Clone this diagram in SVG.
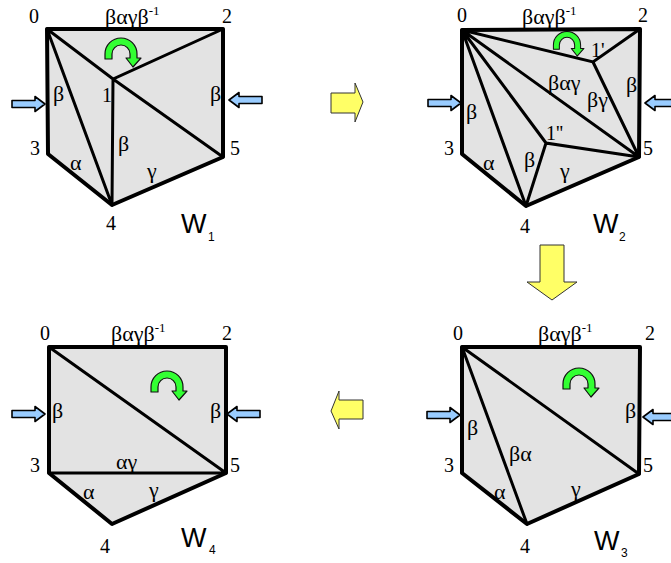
<svg xmlns="http://www.w3.org/2000/svg" xmlns:xlink="http://www.w3.org/1999/xlink" width="671" height="563" viewBox="0 0 671 563">
<style>
.face{fill:#e3e3e3;stroke:none}
.bd{fill:none;stroke:#000;stroke-width:4;stroke-linejoin:round;stroke-linecap:round}
.ed{fill:none;stroke:#000;stroke-width:3;stroke-linecap:round}
.t{font-family:"Liberation Serif","Times New Roman",serif;font-size:20px;fill:#000}
.g{font-family:"Liberation Serif","Times New Roman",serif;font-size:22px;fill:#000}
.sup{font-family:"Liberation Serif","Times New Roman",serif;font-size:13px;fill:#000}
.w{font-family:"Liberation Sans",Arial,sans-serif;font-size:27px;fill:#000}
.ws{font-family:"Liberation Sans",Arial,sans-serif;font-size:12px;fill:#000}
.blue{fill:#99ccff;stroke:#000;stroke-width:1.6;stroke-linejoin:round}
.green{fill:#33ff33;stroke:#111;stroke-width:1.2;stroke-linejoin:round}
.yel{fill:#ffff66;stroke:#333;stroke-width:1;stroke-linejoin:miter}
</style>
<defs>
<path id="blueR" class="blue" d="M-33,-3.5 L-10,-3.5 L-10,-7.5 L0,0 L-10,7.5 L-10,3.5 L-33,3.5 Z"/>
<path id="greenA" class="green" d="M-16,5 L-16,0 A16,16 0 0 1 16,0 L16,4 L20,4 L12,13 L5,4 L9,4 L9,0 A9,9 0 0 0 -9,0 L-9,5 Z"/>
</defs>

<g id="W1">
<polygon class="face" points="47,29 223,29 223,157 112,205 48,154"/>
<use xlink:href="#greenA" transform="translate(121,54)"/>
<path class="ed" d="M47,29 L113,79 L223,29 M113,79 L112,205 M113,79 L223,157 M47,29 L112,205"/>
<polygon class="bd" points="47,29 223,29 223,157 112,205 48,154"/>
<use xlink:href="#blueR" transform="translate(45,104)"/>
<use xlink:href="#blueR" transform="translate(229,100) scale(-1,1)"/>
<text class="t" x="29" y="23">0</text>
<text class="g" x="105" y="24">βαγβ<tspan class="sup" dy="-9">-1</tspan></text>
<text class="t" x="222" y="23">2</text>
<text class="t" x="102" y="102">1</text>
<text class="g" x="53" y="101">β</text>
<text class="g" x="210" y="101">β</text>
<text class="t" x="30" y="155">3</text>
<text class="t" x="230" y="155">5</text>
<text class="g" x="70" y="170">α</text>
<text class="g" x="118" y="151">β</text>
<text class="g" x="147" y="178">γ</text>
<text class="t" x="106" y="230">4</text>
<text class="w" x="181" y="233">W</text>
<text class="ws" x="208" y="241">1</text>
</g>

<g id="W2">
<polygon class="face" points="462,30 640,29 639,157 526,206 462,154"/>
<use xlink:href="#greenA" transform="translate(567,45) scale(0.85)"/>
<path class="ed" d="M462,30 L593,62 L640,29 M593,62 L639,157 M462,30 L639,157 M462,30 L546,143 L639,157 M546,143 L526,206 M462,30 L526,206"/>
<polygon class="bd" points="462,30 640,29 639,157 526,206 462,154"/>
<use xlink:href="#blueR" transform="translate(461,103)"/>
<use xlink:href="#blueR" transform="translate(645,103) scale(-1,1)"/>
<text class="t" x="457" y="22">0</text>
<text class="g" x="522" y="24">βαγβ<tspan class="sup" dy="-9">-1</tspan></text>
<text class="t" x="638" y="22">2</text>
<text class="t" x="591" y="57">1'</text>
<text class="g" x="548" y="90">βαγ</text>
<text class="g" x="587" y="107">βγ</text>
<text class="g" x="626" y="92">β</text>
<text class="g" x="466" y="119">β</text>
<text class="t" x="546" y="140">1''</text>
<text class="t" x="444" y="155">3</text>
<text class="t" x="643" y="155">5</text>
<text class="g" x="483" y="170">α</text>
<text class="g" x="524" y="167">β</text>
<text class="g" x="560" y="178">γ</text>
<text class="t" x="520" y="233">4</text>
<text class="w" x="593" y="233">W</text>
<text class="ws" x="619" y="241">2</text>
</g>

<g id="W3">
<polygon class="face" points="462,347 640,347 639,474 527,524 462,473"/>
<use xlink:href="#greenA" transform="translate(579,384)"/>
<path class="ed" d="M462,347 L527,524 M462,347 L639,474"/>
<polygon class="bd" points="462,347 640,347 639,474 527,524 462,473"/>
<use xlink:href="#blueR" transform="translate(460,415)"/>
<use xlink:href="#blueR" transform="translate(643,417) scale(-1,1)"/>
<text class="t" x="453" y="340">0</text>
<text class="g" x="538" y="341">βαγβ<tspan class="sup" dy="-9">-1</tspan></text>
<text class="t" x="645" y="340">2</text>
<text class="g" x="625" y="418">β</text>
<text class="g" x="467" y="435">β</text>
<text class="g" x="509" y="461">βα</text>
<text class="t" x="444" y="472">3</text>
<text class="t" x="643" y="472">5</text>
<text class="g" x="494" y="499">α</text>
<text class="g" x="571" y="496">γ</text>
<text class="t" x="520" y="553">4</text>
<text class="w" x="594" y="550">W</text>
<text class="ws" x="621" y="557">3</text>
</g>

<g id="W4">
<polygon class="face" points="49,347 226,347 226,473 112,524 49,473"/>
<use xlink:href="#greenA" transform="translate(167,387)"/>
<path class="ed" d="M49,347 L226,473 M49,473 L226,473"/>
<polygon class="bd" points="49,347 226,347 226,473 112,524 49,473"/>
<use xlink:href="#blueR" transform="translate(45,414)"/>
<use xlink:href="#blueR" transform="translate(227,414) scale(-1,1)"/>
<text class="t" x="40" y="340">0</text>
<text class="g" x="111" y="341">βαγβ<tspan class="sup" dy="-9">-1</tspan></text>
<text class="t" x="222" y="340">2</text>
<text class="g" x="52" y="418">β</text>
<text class="g" x="210" y="418">β</text>
<text class="t" x="30" y="472">3</text>
<text class="g" x="116" y="469">αγ</text>
<text class="t" x="230" y="472">5</text>
<text class="g" x="83" y="499">α</text>
<text class="g" x="149" y="497">γ</text>
<text class="t" x="100" y="553">4</text>
<text class="w" x="181" y="547">W</text>
<text class="ws" x="209" y="554">4</text>
</g>

<g id="connectors">
<path class="yel" d="M331,93 L355,93 L355,83 L363,102 L355,122 L355,113 L331,113 Z"/>
<path class="yel" d="M540,245 L564,245 L564,282 L577,282 L552,300 L527,282 L540,282 Z"/>
<path class="yel" d="M363,400 L339,400 L339,391 L331,411 L339,429 L339,419 L363,419 Z"/>
</g>
</svg>
